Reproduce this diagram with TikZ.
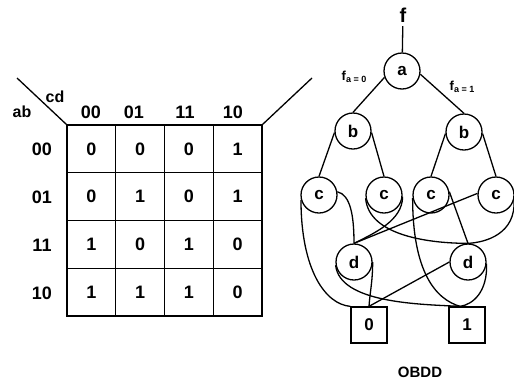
\documentclass[tikz,border=0pt]{standalone}
\usepackage{fontspec}
\setmainfont{Liberation Sans}
\usetikzlibrary{calc}

\begin{document}
\begin{tikzpicture}[x=1pt,y=-1pt,line width=1.3pt,font=\bfseries,
  cell/.style={draw,rectangle,minimum width=48.75pt,minimum height=47.75pt,inner sep=0pt,font=\fontsize{18}{18}\selectfont\bfseries},
  klabel/.style={font=\fontsize{18}{18}\selectfont\bfseries},
  bnode/.style={draw,circle,minimum size=36pt,inner sep=0pt,font=\fontsize{17}{17}\selectfont\bfseries},
  bleaf/.style={draw,rectangle,minimum size=36pt,inner sep=0pt,font=\fontsize{17}{17}\selectfont\bfseries}]
\useasboundingbox (0,0) rectangle (514,381);
\foreach \vals [count=\r] in {{0,0,0,1},{0,1,0,1},{1,0,1,0},{1,1,1,0}} {
  \foreach \v [count=\c] in \vals
    \node[cell] (m\r\c) at (42.625+48.75*\c,101.125+47.75*\r) {\v};
}
\foreach \lab [count=\r] in {00,01,11,10}
  \node[klabel] (row\r) at (42,102+47.75*\r) {\lab};
\foreach \lab/\x [count=\c] in {00/91,01/134,11/185,10/233}
  \node[klabel] (col\c) at (\x,112) {\lab};
\node[font=\fontsize{16}{16}\selectfont\bfseries] (ab) at (22,112) {ab};
\node[font=\fontsize{16}{16}\selectfont\bfseries] (cd) at (55,97) {cd};
\coordinate (dl) at (17,78);
\coordinate (dr) at (312,78);
\draw (dl) -- (m11.north west);
\draw (m14.north east) -- (dr);

\node[font=\fontsize{20}{20}\selectfont\bfseries] (f) at (403,15) {f};
\node[bnode] (a) at (402,71) {a};
\node[bnode] (b1) at (353,131) {b};
\node[bnode] (b2) at (464,132) {b};
\node[bnode] (c1) at (319,195) {c};
\node[bnode] (c2) at (384,195) {c};
\node[bnode] (c3) at (431,195) {c};
\node[bnode] (c4) at (496,195) {c};
\node[bnode] (d1) at (354,262) {d};
\node[bnode] (d2) at (468,262) {d};
\node[bleaf] (t0) at (369,325) {0};
\node[bleaf] (t1) at (467,325) {1};
\node (fa0) at (354,77) {\fontsize{13}{13}\selectfont\bfseries f\raisebox{-0.3ex}{\fontsize{9}{9}\selectfont a = 0}};
\node (fa1) at (462,87) {\fontsize{13}{13}\selectfont\bfseries f\raisebox{-0.3ex}{\fontsize{9}{9}\selectfont a = 1}};
\node[font=\fontsize{15}{15}\selectfont\bfseries] (obdd) at (420,372) {OBDD};

\draw (f) -- (a);
\draw (a.200) -- (b1.north);
\draw (a.-10) -- (b2.north);
\draw (b1.185) -- (c1.north);
\draw (b1.-5) -- (c2.north);
\draw (b2.185) -- (c3.north);
\draw (b2.-5) -- (c4.north);
\draw (c1.195) .. controls +(0,70) and +(-25,-2) .. (t0.north west);
\draw (c1.10) .. controls +(13,3) and +(0,-28) .. (d1.north);
\draw (c2.190) .. controls +(3,38) and +(-37,0) .. (d2.north);
\draw (c2.-5) .. controls +(0,24) and +(20,-10) .. (d1.north);
\draw (c3.190) .. controls +(0,73) and +(-25,-7) .. (t1.110);
\draw (c3.10) -- (d2.north);
\draw (c4.175) -- (d1.north);
\draw (c4.-15) .. controls +(2,34) and +(18,-1) .. (d2.north);
\draw (d1.east) .. controls +(0,20) and +(1,-15) .. (t0.north);
\draw (d1.190) .. controls +(4,38) and +(-40,-2) .. (t1.110);
\draw (d2.west) -- (t0.north);
\draw (d2.-5) .. controls +(1,28) and +(13,-2) .. (t1.110);
\end{tikzpicture}
\end{document}
